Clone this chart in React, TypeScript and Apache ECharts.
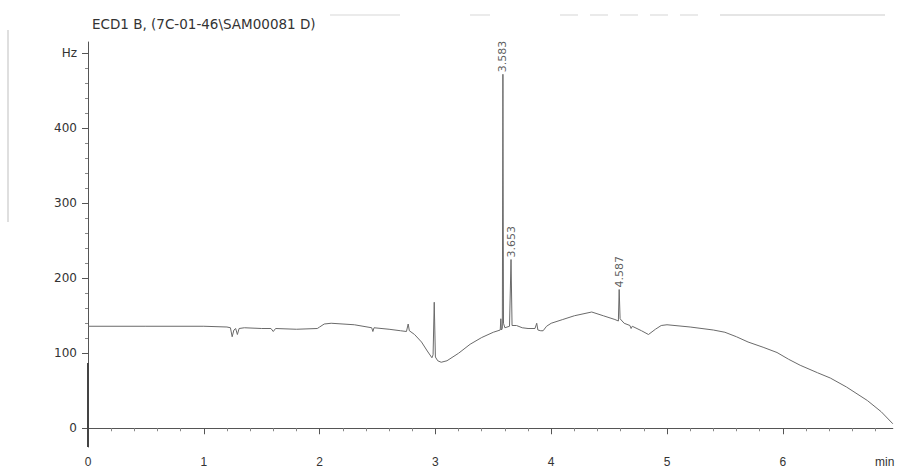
import React, { useEffect, useRef } from "react";
import * as echarts from "echarts";

const titleText = "ECD1 B, (7C-01-46\\SAM00081 D)";

// retention time (min)
const times = [
  0, 0.5, 1.0, 1.2, 1.23, 1.245, 1.26, 1.275, 1.29, 1.305, 1.35, 1.5, 1.58, 1.6, 1.62, 1.8, 1.98, 2.0, 2.04, 2.1,
  2.3, 2.45, 2.46, 2.47, 2.6, 2.7, 2.75, 2.765, 2.775, 2.82, 2.88, 2.93, 2.97, 2.98, 2.99, 3.0, 3.02, 3.05, 3.1,
  3.2, 3.3, 3.4, 3.5, 3.56, 3.565, 3.57, 3.578, 3.583, 3.588, 3.6, 3.64, 3.653, 3.662, 3.7, 3.75, 3.8, 3.86, 3.875,
  3.885, 3.91, 3.93, 3.96, 4.0, 4.1, 4.2, 4.35, 4.45, 4.55, 4.58, 4.587, 4.595, 4.63, 4.68, 4.69, 4.7, 4.78, 4.84,
  4.9, 4.95, 5.0, 5.2, 5.4, 5.5, 5.6, 5.7, 5.83, 5.95, 6.05, 6.15, 6.3, 6.41, 6.55, 6.73, 6.85, 6.95,
];
// detector signal (Hz)
const signal = [
  136, 136, 136, 135, 134, 122, 131, 133, 125, 133, 134, 133, 133, 129, 133, 132, 133, 135, 139, 140,
  138, 134, 129, 134, 132, 130, 129, 139, 130, 125, 115, 103, 94, 98, 168, 95, 90, 88, 90,
  100, 112, 121, 128, 131, 146, 131, 133, 472, 140, 134, 136, 225, 137, 137, 134, 133, 133, 140,
  131, 130, 130, 136, 140, 145, 150, 155, 150, 145, 143, 185, 146, 140, 137, 133, 136, 130, 125,
  132, 137, 138, 135, 131, 128, 122, 115, 108, 101, 92, 84, 74, 67, 55, 37, 22, 6,
];

// start-of-run trace drawn over the y axis
const startTimes = [0, 0];
const startSignal = [-25, 87];

// labelled peaks
const peakTimes = [3.583, 3.653, 4.587];
const peakValues = [472, 225, 185];
const peakLabels = ["3.583", "3.653", "4.587"];

// axes
const xMin = 0;
const xMax = 6.95;
const xTickValues = [0, 1, 2, 3, 4, 5, 6];
const xLabelValues = [0, 1, 2, 3, 4, 5, 6, 6.88];
const xLabelTexts = ["0", "1", "2", "3", "4", "5", "6", "min"];
const xMinorTicks = [
  0.2, 0.4, 0.6, 0.8, 1.2, 1.4, 1.6, 1.8, 2.2, 2.4, 2.6, 2.8, 3.2, 3.4, 3.6, 3.8, 4.2, 4.4, 4.6, 4.8, 5.2, 5.4,
  5.6, 5.8, 6.2, 6.4, 6.6, 6.8,
];
const yMin = -25;
const yMax = 515;
const yTickValues = [0, 100, 200, 300, 400, 500];
const yTickLabels = ["0", "100", "200", "300", "400", "Hz"];
const yMinorTicks = [
  120, 140, 160, 180, 220, 240, 260, 280, 320, 340, 360, 380, 420, 440, 460, 480,
];

export default function App() {
  const ref = useRef<HTMLDivElement>(null);

  useEffect(() => {
    if (!ref.current) return;
    const chart = echarts.init(ref.current, undefined, { renderer: "svg" });
    const axisColor = "#555";
    const textColor = "#333";
    const grid = {
      left: 88,
      right: 899 - (88 + 6.95 * 115.8),
      top: 42,
      bottom: 24,
      containLabel: false,
      outerBoundsMode: "none",
    };
    chart.setOption({
      animation: false,
      backgroundColor: "#ffffff",
      title: {
        text: titleText,
        left: 92,
        top: 17,
        padding: 0,
        textStyle: { fontFamily: "DejaVu Sans", fontSize: 13.5, fontWeight: "normal", color: textColor },
      },
      graphic: [
        { type: "line", shape: { x1: 8, y1: 30, x2: 8, y2: 222 }, style: { stroke: "#d4d4d4", lineWidth: 1.5 }, silent: true },
        { type: "line", shape: { x1: 330, y1: 15, x2: 400, y2: 15 }, style: { stroke: "#e4e4e4", lineWidth: 1.5 }, silent: true },
        { type: "line", shape: { x1: 470, y1: 15, x2: 490, y2: 15 }, style: { stroke: "#e4e4e4", lineWidth: 1.5 }, silent: true },
        { type: "line", shape: { x1: 560, y1: 15, x2: 700, y2: 15 }, style: { stroke: "#e4e4e4", lineWidth: 1.5, lineDash: [18, 12] }, silent: true },
        { type: "line", shape: { x1: 720, y1: 15, x2: 885, y2: 15 }, style: { stroke: "#dcdcdc", lineWidth: 1.5 }, silent: true },
      ],
      grid,
      xAxis: [
        {
          type: "value",
          min: xMin,
          max: xMax,
          axisLine: { show: true, lineStyle: { color: axisColor, width: 1 } },
          axisTick: { show: true, length: 6, customValues: xTickValues, lineStyle: { color: axisColor } },
          axisLabel: {
            show: true,
            customValues: xLabelValues,
            formatter: (v: number) => {
              const i = xLabelValues.indexOf(v);
              return i >= 0 ? xLabelTexts[i] : "";
            },
            margin: 9,
            color: textColor,
            fontFamily: "Liberation Sans Narrow, Liberation Sans, sans-serif",
            fontSize: 12,
          },
          splitLine: { show: false },
        },
        {
          type: "value",
          min: xMin,
          max: xMax,
          position: "bottom",
          axisLine: { show: false },
          axisTick: { show: true, length: 3, customValues: xMinorTicks, lineStyle: { color: "#888" } },
          axisLabel: { show: false },
          splitLine: { show: false },
        },
      ],
      yAxis: [
        {
          type: "value",
          min: yMin,
          max: yMax,
          axisLine: { show: true, lineStyle: { color: axisColor, width: 1 } },
          axisTick: { show: true, length: 6, customValues: yTickValues, lineStyle: { color: axisColor } },
          axisLabel: {
            show: true,
            customValues: yTickValues,
            formatter: (v: number) => {
              const i = yTickValues.indexOf(v);
              return i >= 0 ? yTickLabels[i] : "";
            },
            margin: 11,
            color: textColor,
            fontFamily: "DejaVu Sans",
            fontSize: 12,
          },
          splitLine: { show: false },
        },
        {
          type: "value",
          min: yMin,
          max: yMax,
          position: "left",
          axisLine: { show: false },
          axisTick: { show: true, length: 3, customValues: yMinorTicks, lineStyle: { color: "#888" } },
          axisLabel: { show: false },
          splitLine: { show: false },
        },
      ],
      series: [
        {
          type: "line",
          xAxisIndex: 0,
          yAxisIndex: 0,
          data: times.map((t, i) => [t, signal[i]]),
          showSymbol: false,
          symbol: "none",
          lineStyle: { color: "#6a6a6a", width: 1 },
          z: 3,
        },
        {
          type: "line",
          xAxisIndex: 0,
          yAxisIndex: 0,
          data: startTimes.map((t, i) => [t, startSignal[i]]),
          showSymbol: false,
          symbol: "none",
          lineStyle: { color: "#444", width: 2 },
          z: 3,
        },
        {
          type: "scatter",
          xAxisIndex: 0,
          yAxisIndex: 0,
          data: peakTimes.map((t, i) => [t, peakValues[i]]),
          symbolSize: 0,
          label: {
            show: true,
            position: "top",
            distance: 2,
            rotate: 90,
            align: "left",
            verticalAlign: "middle",
            formatter: (p: any) => peakLabels[p.dataIndex],
            color: textColor,
            fontFamily: "DejaVu Sans",
            fontSize: 11,
          },
          z: 4,
        },
      ],
    });
    return () => chart.dispose();
  }, []);

  return (
    <div
      ref={ref}
      style={{ position: "fixed", left: 0, top: 0, width: 899, height: 471, background: "#fff" }}
    />
  );
}
